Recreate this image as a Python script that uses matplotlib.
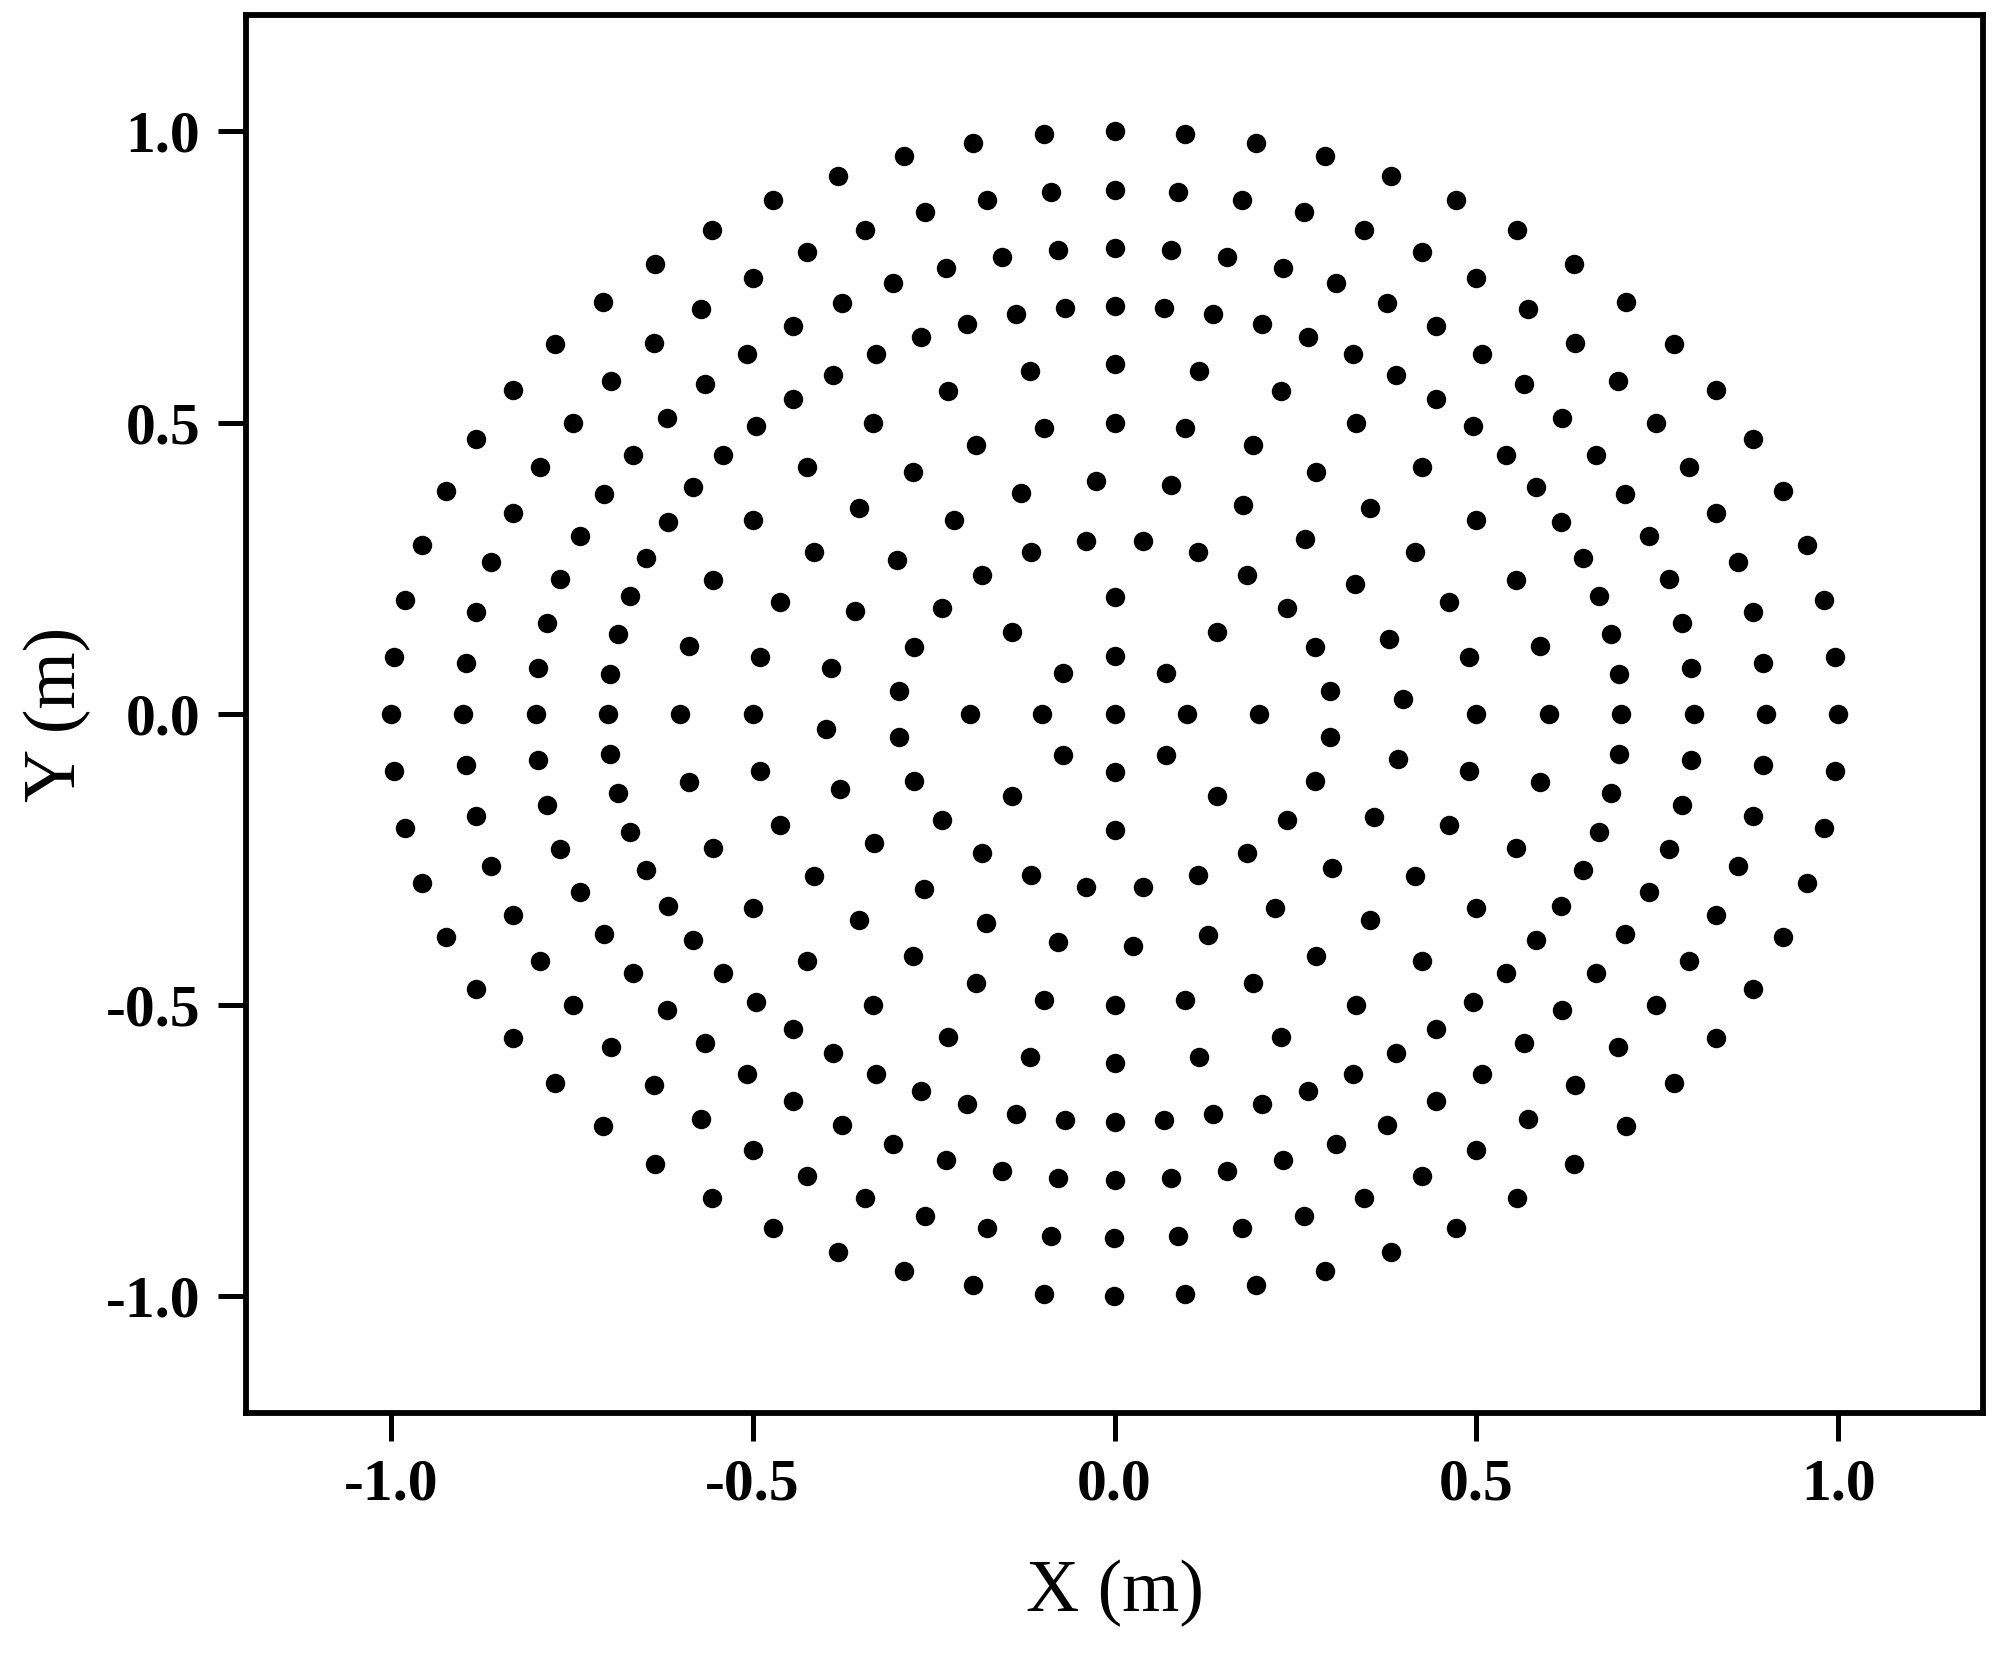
import matplotlib
matplotlib.use("Agg")
import numpy as np
import matplotlib.pyplot as plt

# Serif look of the original (Times-like)
matplotlib.rc('font', family='Liberation Serif')
matplotlib.rcParams['axes.unicode_minus'] = False

# Ring layout: radius (m), number of points, start angle (deg)
ring_radius = [0.0, 0.1, 0.2, 0.3, 0.4, 0.5, 0.6, 0.7, 0.8, 0.9, 1.0]
ring_count = [1, 8, 8, 24, 24, 32, 32, 64, 64, 64, 64]
ring_phase = [0.0, 0.0, 0.0, 7.5, 3.75, 0.0, 0.0, 0.0, 0.0, 0.0, 0.0]

tick_values = [-1.0, -0.5, 0.0, 0.5, 1.0]
tick_labels = ['-1.0', '-0.5', '0.0', '0.5', '1.0']

xs, ys = [], []
for r, n, p in zip(ring_radius, ring_count, ring_phase):
    ang = np.deg2rad(p + 360.0 * np.arange(n) / n)
    xs.extend(r * np.cos(ang))
    ys.extend(r * np.sin(ang))

fig = plt.figure(figsize=(20, 16.57), dpi=100)
ax = fig.add_axes([0.123, 0.1473, 0.8685, 0.8437])

ax.plot(xs, ys, 'o', color='black', markersize=14, markeredgewidth=0)

ax.set_xlim(-1.2, 1.2)
ax.set_ylim(-1.2, 1.2)
ax.set_xticks(tick_values)
ax.set_yticks(tick_values)
ax.set_xticklabels(tick_labels, fontsize=43, fontweight='bold')
ax.set_yticklabels(tick_labels, fontsize=43, fontweight='bold')

for s in ax.spines.values():
    s.set_linewidth(4.2)
ax.tick_params(direction='out', length=20, width=3.6, pad=13)

ax.set_xlabel('X (m)', fontsize=53, labelpad=34)
ax.set_ylabel('Y (m)', fontsize=53, labelpad=10)

fig.savefig('out.png', dpi=100, facecolor='white')
plt.close(fig)
